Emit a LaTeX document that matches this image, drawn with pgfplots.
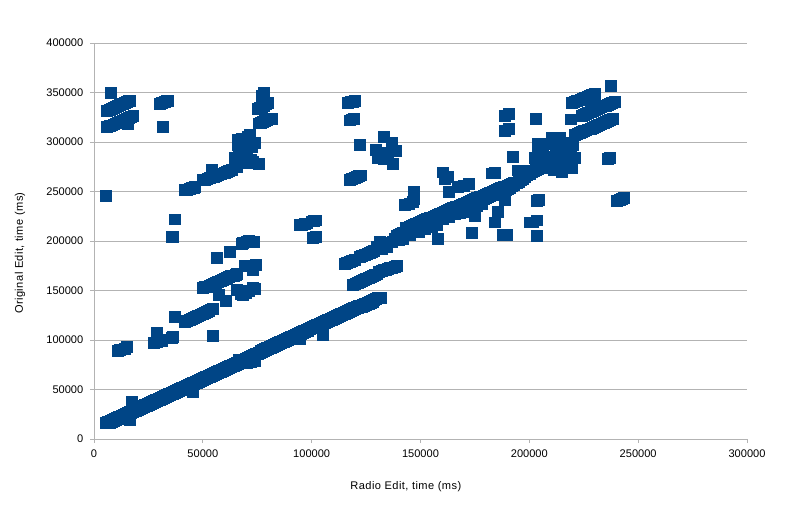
\documentclass[border=0pt]{standalone}
\usepackage{pgfplots}
\pgfplotsset{compat=1.18}
\usepackage{fontspec}
\setmainfont{Liberation Sans}
\definecolor{pts}{HTML}{004586}
\definecolor{gr}{HTML}{B3B3B3}
\begin{document}
\begin{tikzpicture}[x=1pt,y=1pt]
\useasboundingbox (0,0) rectangle (594,383.25);
\begin{axis}[
  at={(70.5pt,54pt)}, anchor=south west,
  scale only axis, width=489.75pt, height=297pt,
  xmin=0, xmax=300000, ymin=0, ymax=400000,
  xtick={0,50000,100000,150000,200000,250000,300000},
  ytick={0,50000,100000,150000,200000,250000,300000,350000,400000},
  scaled ticks=false,
  /pgf/number format/fixed,
  /pgf/number format/1000 sep={},
  /pgf/number format/assume math mode=true,
  tick label style={font=\fontsize{8.3}{10}\selectfont, text=black},
  xticklabel style={yshift=-1.5pt},
  yticklabel style={xshift=-1.5pt},
  ymajorgrids, major grid style={gr, line width=0.75pt},
  axis line style={gr, line width=0.75pt},
  tick style={gr, line width=0.75pt},
  tick align=outside, major tick length=3pt,
  axis x line*=bottom, axis y line*=left,
  xlabel={Radio Edit, time (ms)},
  ylabel={Original Edit, time (ms)},
  label style={font=\fontsize{8.3}{10}\selectfont\addfontfeature{LetterSpace=4}, text=black},
  xlabel style={at={(axis description cs:0.5,0)}, anchor=north, yshift=-28pt, xshift=-11pt},
  ylabel style={at={(axis description cs:0,0.5)}, anchor=south, yshift=48pt, xshift=-9pt},
  clip=false,
]
\addplot[only marks, mark=square*, mark size=4.1pt,
  mark options={draw=pts, fill=pts, line width=0.3pt}] coordinates {
(5500,16500)(6500,17500)(7500,18500)(8500,19500)(9500,20500)(10500,21500)(11500,22500)(12500,23500)(13500,24500)(14500,25500)(15500,26500)(16500,27500)(17500,28500)(18500,29500)(19500,30500)(20500,31500)(21500,32500)(22500,33500)(23500,34500)(24500,35500)(25500,36500)(26500,37500)(27500,38500)(28500,39500)(29500,40500)(30500,41500)(31500,42500)(32500,43500)(33500,44500)(34500,45500)(35500,46500)(36500,47500)(37500,48500)(38500,49500)(39500,50500)(40500,51500)(41500,52500)(42500,53500)(43500,54500)(44500,55500)(45500,56500)(46500,57500)(47500,58500)(48500,59500)(49500,60500)
(50500,61500)(51500,62500)(52500,63600)(53500,64600)(54500,65700)(55500,66700)(56500,67800)(57500,68800)(58500,69900)(59500,70900)(60500,72000)(61500,73000)(62500,74100)(63500,75100)(64500,76200)(65500,77200)(66500,78300)(67500,79300)(68500,80400)(69500,81400)(70500,82500)(71500,83500)(72500,84600)(73500,85600)(74500,86700)(75500,87700)(76500,88800)(77500,89800)(78500,90900)(79500,91900)(80500,93000)(81500,94000)(82500,95100)(83500,96100)(84500,97200)(85500,98200)(86500,99300)(87500,100300)(88500,101400)(89500,102400)(90500,103500)(91500,104500)(92500,105600)(93500,106600)(94500,107700)(95500,108700)(96500,109800)(97500,110800)(98500,111900)(99500,112900)
(100500,113900)(101500,114800)(102500,115800)(103500,116800)(104500,117700)(105500,118700)(106500,119700)(107500,120600)(108500,121600)(109500,122600)(110500,123500)(111500,124500)(112500,125500)(113500,126400)(114500,127400)(115500,128400)(116500,129300)(117500,130300)(118500,131300)(119500,132200)(120500,133200)(121500,134200)(122500,135100)(123500,136100)(124500,137100)(125500,138000)(126500,139000)(127500,140000)(128500,140900)(129500,141900)(130500,142500)(131500,143000)
(6000,16000)(7000,16500)(8000,17500)(9000,18500)(10000,19500)(11000,20500)(12000,21500)(13000,22500)(14000,23500)(15000,24500)(16000,25500)(17000,26500)(18000,27500)(19000,28500)(20000,29500)(21000,30500)(22000,31500)(23000,32500)(24000,33500)(25000,34500)(26000,35500)(27000,36500)(28000,37500)(29000,38500)(30000,39500)(31000,40500)(32000,41500)(33000,42500)(34000,43500)(35000,44500)(36000,45500)(37000,46500)(38000,47500)(39000,48500)(40000,49500)(41000,50500)(42000,51500)(43000,52500)(44000,53500)(45000,54500)(46000,55500)(47000,56500)(48000,57500)(49000,58500)(50000,59500)
(51000,60500)(52000,61500)(53000,62600)(54000,63600)(55000,64700)(56000,65700)(57000,66800)(58000,67800)(59000,68900)(60000,69900)(61000,71000)(62000,72000)(63000,73100)(64000,74100)(65000,75200)(66000,76200)(67000,77300)(68000,78300)(69000,79400)(70000,80400)(71000,81500)(72000,82500)(73000,83600)(74000,84600)(75000,85700)(76000,86700)(77000,87800)(78000,88800)(79000,89900)(80000,90900)(81000,92000)(82000,93000)(83000,94100)(84000,95100)(85000,96200)(86000,97200)(87000,98300)(88000,99300)(89000,100400)(90000,101400)(91000,102500)(92000,103500)(93000,104600)(94000,105600)(95000,106700)(96000,107700)(97000,108800)(98000,109800)(99000,110900)(100000,111900)
(101000,112900)(102000,113800)(103000,114800)(104000,115800)(105000,116700)(106000,117700)(107000,118700)(108000,119600)(109000,120600)(110000,121600)(111000,122500)(112000,123500)(113000,124500)(114000,125400)(115000,126400)(116000,127400)(117000,128300)(118000,129300)(119000,130300)(120000,131200)(121000,132200)(122000,133200)(123000,134100)(124000,135100)(125000,136100)(126000,137000)(127000,138000)(128000,139000)
(6500,16500)(17500,38000)(16500,19000)(16500,22000)(45500,47500)(68500,79000)(70000,77000)(72000,78000)(74000,79000)(66500,80000)(94600,101000)(105000,105000)(105200,107000)
(11000,88900)(12000,89900)(13000,90700)(14000,91600)(15200,93000)
(27500,97000)(28900,98000)(30500,100000)(29000,107000)(29000,103000)(31000,99000)(36300,103000)(35500,102500)(37200,124000)
(41800,118000)(42800,119100)(43800,120200)(44800,121300)(45800,122400)(46800,123500)(47800,124500)(48800,125600)(49800,126700)(50800,127800)(51800,128900)(52800,130000)(53800,131100)(54600,132000)(54600,104000)
(50000,152500)(51000,153400)(52000,154300)(53000,155300)(54000,156200)(55000,157100)(56000,158000)(57000,159000)(58000,159900)(59000,160800)(60000,161700)(61000,162700)(62000,163600)(63000,164500)(64000,165400)(65000,166400)(65700,167000)
(56500,183500)(57400,146000)(60600,139500)(62500,189000)
(65700,151000)(67500,147000)(68400,145500)(69500,148000)(71000,150000)(73000,153000)(74000,152000)
(69400,175500)(72700,171000)(74400,176500)(73000,175000)
(68000,197000)(68500,198000)(70000,199000)(71000,200000)(72500,199000)(73500,199500)
(6000,332000)(7000,333000)(8000,334000)(9000,334800)(10000,335800)(11000,336700)(12000,337700)(13000,338600)(14000,339600)(15000,340500)(16000,341500)(16500,342000)
(6000,315000)(7000,316000)(8000,317000)(9000,318000)(10000,319000)(11000,320000)(12000,321000)(13000,322000)(14000,323000)(15000,324000)(16000,325000)(17000,326000)(18000,327000)(15500,318000)
(7800,349500)
(30300,339000)(31300,339800)(32300,340500)(33300,341400)(34000,342000)(31700,315000)
(5500,246000)(37200,222000)(35500,204000)(36300,204500)
(41800,251500)(42800,252200)(43800,252800)(44800,253500)(45800,254100)(46400,254500)
(50000,261500)(51000,262300)(52000,263000)(53000,263800)(54000,264600)(55000,265400)(56000,266200)(57000,266900)(58000,267700)(59000,268500)(60000,269300)(61000,270100)(62000,270900)(63400,272000)(54200,272500)
(64800,284000)(66000,297000)(66000,302000)(68000,303000)(71700,307000)(70500,305000)(74000,299000)(70300,292000)(67000,282000)(69000,285000)(72000,282000)(75500,278000)(65700,275000)(70700,279000)(68000,290000)(72500,295000)(73000,280000)(66500,288000)(69000,297000)
(75000,334000)(76000,335000)(77000,336000)(78000,337000)(79000,338200)(80000,339500)
(75500,319000)(76500,319800)(77500,320600)(78500,321400)(79500,322200)(80500,323000)(81800,324000)
(78000,350000)(77000,347000)
(94600,216000)(95600,216800)(96600,217400)(97800,218000)(100000,220000)(101000,220500)(102000,221000)(100500,203000)(102000,204000)
(116700,339500)(117700,340300)(118700,341000)(119900,342000)
(117600,322000)(118500,323000)(119500,324000)
(122200,297000)
(133200,305000)(136900,299000)(138700,291000)(137400,278000)(129500,292000)(130500,284000)(133700,289000)(131500,286000)(133000,283000)(135000,287000)
(117600,261500)(118600,262500)(119600,263500)(120600,264500)(121600,265500)(122700,266500)
(142800,236500)(143800,237200)(144800,238000)(146500,239500)(147000,243000)(147000,249500)
(115300,177500)(116300,178300)(117300,179000)(118300,179800)(119900,181000)(122000,184000)(123000,184800)(124500,186000)(125500,187000)(126500,188000)(127500,189000)(128500,190000)(130000,194000)(131400,199000)(133000,198000)(134600,194000)(132000,192000)
(119000,155500)(120000,156500)(121000,157500)(122000,158500)(123000,159500)(124000,160500)(125000,161500)(126000,162500)(127000,163500)(128000,164500)(129000,165500)(130000,166500)(131000,169000)(132000,170000)(133000,171000)(134000,171000)(135000,171800)(136000,172600)(137000,173400)(138000,174400)(139200,175500)
(137000,199000)(138000,202000)(139000,205000)(140000,206000)(141000,207000)(142000,208000)(143000,208900)(144000,209900)(145000,210800)(146000,211700)(147000,212700)(148000,213600)(149000,214500)(150000,215500)(151000,216400)(152000,217300)(153000,218300)(154000,219200)(155000,220100)(156000,221100)(157000,222000)(158000,222900)(159000,223900)(160000,224800)(161000,225700)(162000,226700)(163000,227600)(164000,228500)(165000,229500)(166000,230400)(167000,231300)(168000,232300)(169000,233200)(170000,234100)(171000,235100)(172000,236000)(173000,236900)(174000,237900)(175000,238800)(176000,239700)(177000,240700)(178000,241600)(179000,242500)(180000,243500)(181000,244400)(182000,245300)(183000,246300)(184000,247200)(185000,248100)(186000,249100)(187000,250000)(188000,251000)(189000,252000)(190000,253000)(191000,254200)(192000,255500)(193000,257000)(194000,258500)(195000,260000)(196000,261500)(197000,263000)(198000,265000)(199000,266500)(200000,268000)(201000,269500)(202000,271000)(203000,272000)(204000,273000)(205500,274500)
(143000,213000)(144000,213900)(145000,214800)(146000,215800)(147000,216700)(148000,217600)(149000,218500)(150000,219400)(151000,220400)(152000,221300)(153000,222200)(154000,223100)(155000,224000)(156000,225000)(157000,225900)(158000,226800)(159000,227700)(160000,228600)(161000,229600)(162000,230500)(163000,231400)(164000,232300)(165000,233200)(166000,234200)(167000,235100)(168000,236000)(169000,236900)(170000,237800)(171000,238800)(172000,239700)(173000,240600)(174000,241500)(175000,242400)(176000,243400)(177000,244300)(178000,245200)(179000,246100)(180000,247000)(181000,248000)(182000,248900)(183000,249800)(184000,250700)(185000,251600)(186000,252600)(187000,253500)(188000,254400)(189000,255300)(190000,256200)(191000,257200)(192000,258100)(193000,259000)
(145000,206000)(142000,202000)(149000,209000)(152000,212000)(154400,216000)(157600,216000)(155000,214500)(158000,202000)(140000,201000)(160000,222000)(163000,225000)(165800,228000)(168000,228500)(170000,230000)(175000,226000)(173000,232000)(178300,238000)(176000,236000)
(173700,208000)
(160400,269500)(161000,263000)(162600,264500)
(163000,249500)(167200,254500)(170000,255500)(172300,257500)
(182800,268500)(184000,269000)
(188500,327000)(190700,329000)(188500,311500)(190700,313000)
(192500,285500)(188800,242000)(185600,229500)(184200,219000)(187900,206000)(189500,206000)
(194800,271500)(197000,271000)
(200300,219000)(201700,219000)(203500,221000)(203500,205000)(204400,242000)(203500,241000)
(203000,324000)
(204000,298000)(210400,304000)(214000,304000)(217300,299000)(220000,297000)(221000,284000)(219600,274000)(215000,270000)(211000,272000)(202600,284000)
(206000,292000)(208000,298000)(212000,298000)(216000,293000)(219000,288000)(205000,280000)(208000,285000)(212000,290000)(216000,283000)(210000,278000)(214000,276000)(218000,278000)(204000,290000)(207000,276000)(211000,284000)
(219600,339500)(220600,340400)(221600,341300)(222600,342200)(223600,343100)(224600,344000)(225600,344900)(226600,345800)(227600,346700)(228600,347600)(230000,349000)
(224000,327000)(225000,328000)(226000,329000)(227000,329900)(228000,330800)(229000,331700)(230000,332600)(231000,333500)(232000,334400)(233000,335300)(234000,336200)(235000,337100)(236000,338000)(237000,338900)(238000,339800)(239300,341000)
(221000,307000)(222000,308000)(223000,309000)(224000,310000)(225000,311000)(226000,311900)(227000,312900)(228000,313900)(229000,314900)(230000,315800)(231000,316800)(232000,317800)(233000,318700)(234000,319700)(235000,320700)(236000,321600)(237000,322600)(238500,324000)
(219000,323000)(237500,356500)
(236000,283000)(237000,284000)
(240300,240500)(241300,241300)(242300,242300)(243500,243500)
};
\end{axis}
\end{tikzpicture}
\end{document}
